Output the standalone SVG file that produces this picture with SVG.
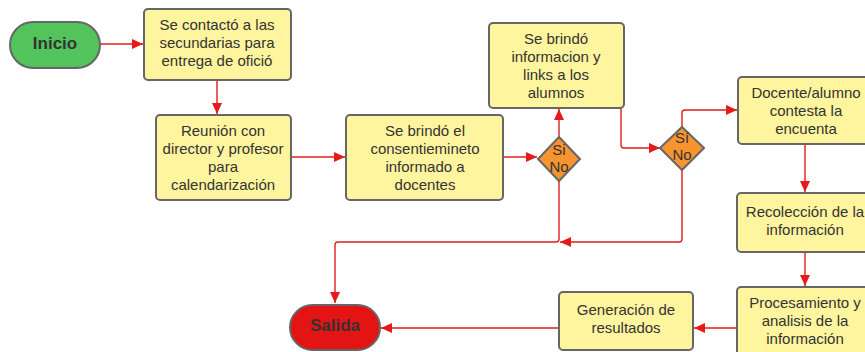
<svg xmlns="http://www.w3.org/2000/svg" width="865" height="352" viewBox="0 0 865 352">
<style>
.box{fill:#fff59e;stroke:#666;stroke-width:2}
.dia{fill:#f7942f;stroke:#666;stroke-width:2}
.t{font-family:"Liberation Sans",Arial,sans-serif;font-size:15px;fill:#333;text-anchor:middle}
.tb{font-family:"Liberation Sans",Arial,sans-serif;font-size:17px;font-weight:bold;fill:#333;text-anchor:middle}
.c{fill:none;stroke:#e31b1b;stroke-width:1.4}
</style>
<defs>
<marker id="ah" markerUnits="userSpaceOnUse" markerWidth="12" markerHeight="10" refX="11" refY="5" orient="auto">
<path d="M0,0 L11,5 L0,10 Z" fill="#e31b1b"/>
</marker>
</defs>
<rect width="865" height="352" fill="#fff"/>
<g id="connectors">
<path class="c" d="M100,44 H143" marker-end="url(#ah)"/>
<path class="c" d="M217,80 V114" marker-end="url(#ah)"/>
<path class="c" d="M291,157 H345" marker-end="url(#ah)"/>
<path class="c" d="M503,157 H537" marker-end="url(#ah)"/>
<path class="c" d="M559,137 V109" marker-end="url(#ah)"/>
<path class="c" d="M559,181 V239 Q559,242 556,242 H338 Q335,242 335,245 V303" marker-end="url(#ah)"/>
<path class="c" d="M621,108 V145 Q621,148 624,148 H660" marker-end="url(#ah)"/>
<path class="c" d="M682,127 V113 Q682,110 685,110 H737" marker-end="url(#ah)"/>
<path class="c" d="M682,170 V239 Q682,242 679,242 H560" marker-end="url(#ah)"/>
<path class="c" d="M805,144 V192" marker-end="url(#ah)"/>
<path class="c" d="M805,252 V286" marker-end="url(#ah)"/>
<path class="c" d="M737,328 H694" marker-end="url(#ah)"/>
<path class="c" d="M559,328 H381" marker-end="url(#ah)"/>
</g>
<g id="inicio">
<rect x="10" y="22" width="90" height="46" rx="23" fill="#53c35b" stroke="#666" stroke-width="2"/>
<text class="tb" x="55" y="49">Inicio</text>
</g>
<g id="contacto">
<rect class="box" x="144" y="9" width="147" height="71" rx="4"/>
<text class="t" x="217" y="30">Se contactó a las</text>
<text class="t" x="217" y="48">secundarias para</text>
<text class="t" x="217" y="66">entrega de ofició</text>
</g>
<g id="reunion">
<rect class="box" x="156" y="115" width="135" height="85" rx="4"/>
<text class="t" x="223" y="136">Reunión con</text>
<text class="t" x="223" y="154">director y profesor</text>
<text class="t" x="223" y="172">para</text>
<text class="t" x="223" y="190">calendarización</text>
</g>
<g id="consentimiento">
<rect class="box" x="346" y="115" width="157" height="85" rx="4"/>
<text class="t" x="425" y="136">Se brindó el</text>
<text class="t" x="425" y="154">consentiemineto</text>
<text class="t" x="425" y="172">informado a</text>
<text class="t" x="425" y="190">docentes</text>
</g>
<g id="decision1">
<path class="dia" d="M559,137 L580,159 L559,181 L538,159 Z"/>
<text class="t" x="559" y="155">Si</text>
<text class="t" x="559" y="172">No</text>
</g>
<g id="informacion">
<rect class="box" x="489" y="23" width="135" height="85" rx="4"/>
<text class="t" x="556" y="44">Se brindó</text>
<text class="t" x="556" y="62">informacion y</text>
<text class="t" x="556" y="80">links a los</text>
<text class="t" x="556" y="98">alumnos</text>
</g>
<g id="decision2">
<path class="dia" d="M682,127 L704,148 L682,170 L660,148 Z"/>
<text class="t" x="682" y="143">Sí</text>
<text class="t" x="682" y="160">No</text>
</g>
<g id="contesta">
<rect class="box" x="738" y="77" width="136" height="67" rx="4"/>
<text class="t" x="806" y="98">Docente/alumno</text>
<text class="t" x="806" y="116">contesta la</text>
<text class="t" x="806" y="134">encuenta</text>
</g>
<g id="recoleccion">
<rect class="box" x="737" y="193" width="136" height="59" rx="4"/>
<text class="t" x="805" y="217">Recolección de la</text>
<text class="t" x="805" y="235">información</text>
</g>
<g id="procesamiento">
<rect class="box" x="737" y="287" width="136" height="75" rx="4"/>
<text class="t" x="805" y="308">Procesamiento y</text>
<text class="t" x="805" y="326">analisis de la</text>
<text class="t" x="805" y="344">información</text>
</g>
<g id="generacion">
<rect class="box" x="559" y="292" width="134" height="58" rx="4"/>
<text class="t" x="626" y="315">Generación de</text>
<text class="t" x="626" y="333">resultados</text>
</g>
<g id="salida">
<rect x="290" y="305" width="90" height="45" rx="22.5" fill="#e41414" stroke="#666" stroke-width="2"/>
<text class="tb" x="335" y="331">Salida</text>
</g>
</svg>
